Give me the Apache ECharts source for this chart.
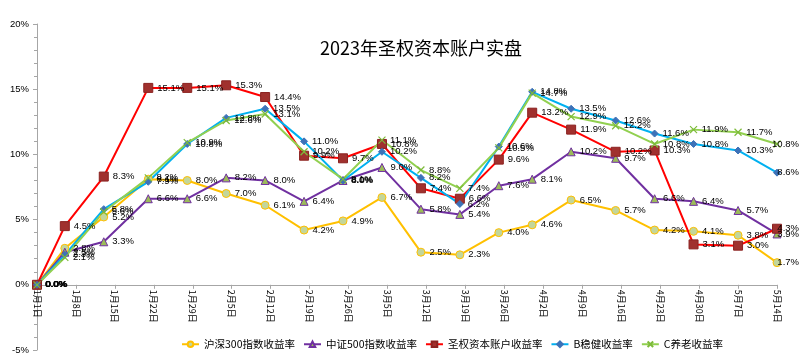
<!DOCTYPE html>
<html>
<head>
<meta charset="utf-8">
<script src="https://cdn.jsdelivr.net/npm/echarts@6/dist/echarts.min.js"></script>
<style>
html,body{margin:0;padding:0;background:#fff;}
#chart{width:800px;height:357px;}
</style>
</head>
<body>
<div id="chart"></div>
<script>
// ---- data ----
const title = '2023年圣权资本账户实盘';
const dates = ['2023-01-01','2023-01-06','2023-01-13','2023-01-21','2023-01-28','2023-02-04','2023-02-11','2023-02-18','2023-02-25','2023-03-04','2023-03-11','2023-03-18','2023-03-25','2023-03-31','2023-04-07','2023-04-15','2023-04-22','2023-04-29','2023-05-07','2023-05-14'];
const tickLabels = ['1月1日','1月8日','1月15日','1月22日','1月29日','2月5日','2月12日','2月19日','2月26日','3月5日','3月12日','3月19日','3月26日','4月2日','4月9日','4月16日','4月23日','4月30日','5月7日','5月14日'];
const seriesNames = ['沪深300指数收益率','中证500指数收益率','圣权资本账户收益率','B稳健收益率','C养老收益率'];
const hs300      = [0,2.8,5.2,8.1,8.0,7.0,6.1,4.2,4.9,6.7,2.5,2.3,4.0,4.6,6.5,5.7,4.2,4.1,3.8,1.7];
const zz500      = [0,2.5,3.3,6.6,6.6,8.2,8.0,6.4,8.0,9.0,5.8,5.4,7.6,8.1,10.2,9.7,6.6,6.4,5.7,3.9];
const shengquan  = [0,4.5,8.3,15.1,15.1,15.3,14.4,9.9,9.7,10.8,7.4,6.6,9.6,13.2,11.9,10.2,10.3,3.1,3.0,4.3];
const bWenjian   = [0,2.3,5.8,7.9,10.8,12.8,13.5,11.0,8.0,10.2,8.2,6.2,10.6,14.8,13.5,12.6,11.6,10.8,10.3,8.6];
const cYanglao   = [0,2.1,5.6,8.2,10.9,12.6,13.1,10.2,8.1,11.1,8.8,7.4,10.5,14.7,12.9,12.2,10.8,11.9,11.7,10.8];
const yMin = -5, yMax = 20, yStep = 5;

// ---- styles ----
const styles = [
  {line:'#FFC000', fill:'#C3D69B', border:'#FFC000', symbol:'circle', size:8},
  {line:'#7030A0', fill:'#9BBB59', border:'#7030A0', symbol:'triangle', size:8},
  {line:'#FF0000', fill:'#A0312E', border:'#8B2220', symbol:'rect', size:9},
  {line:'#00B0F0', fill:'#3D72B8', border:'#3D72B8', symbol:'diamond', size:7},
  {line:'#92D050', fill:'#92D050', border:'#7DBB3A', symbol:'path://M0,0L10,10M10,0L0,10', size:7}
];
const allValues = [hs300, zz500, shengquan, bWenjian, cYanglao];

const base = Date.UTC(2023,0,1);
function dayOf(s){const p=s.split('-').map(Number);return (Date.UTC(p[0],p[1]-1,p[2])-base)/86400000;}
const days = dates.map(dayOf);
const lastIdx = dates.length-1;
const labelFont = {fontFamily:'Liberation Sans, Arial, sans-serif', fontSize:9.5, color:'#000'};

const series = allValues.map((vals, si) => {
  const st = styles[si];
  return {
    name: seriesNames[si],
    type: 'line',
    symbol: st.symbol,
    symbolSize: st.size,
    showAllSymbol: true,
    clip: false,
    lineStyle: {color: st.line, width: 2},
    itemStyle: {color: st.fill, borderColor: st.border, borderWidth: 1},
    label: Object.assign({show: true, position: 'right', distance: 4,
      formatter: p => p.value[1].toFixed(1) + '%'}, labelFont),
    data: vals.map((v, i) => {
      const d = {value: [days[i], v]};
      if (i === lastIdx) {
        d.label = {position: ['50%','50%'], align: 'right', verticalAlign: 'middle', offset: [22, 0]};
      }
      return d;
    })
  };
});
// C养老 cross symbol drawn as stroke
series[4].itemStyle = {color: 'rgba(0,0,0,0)', borderColor: '#7DBB3A', borderWidth: 1.2};

const H = 357, gridTop = 24, gridBottom = 7;
const plotH = H - gridTop - gridBottom;
const zeroOffset = -plotH * (0 - yMin) / (yMax - yMin);

const chart = echarts.init(document.getElementById('chart'), null, {renderer: 'canvas'});
chart.setOption({
  animation: false,
  backgroundColor: '#fff',
  title: {
    text: title, left: 416, top: 34, textAlign: 'center',
    textStyle: {fontFamily: 'Noto Sans CJK SC', fontSize: 18, fontWeight: 'normal', color: '#000'}
  },
  legend: {
    data: seriesNames, left: 176, top: 334, width: 620,
    itemWidth: 17, itemHeight: 7, itemGap: 8,
    textStyle: {fontFamily: 'Noto Sans CJK SC', fontSize: 10.5, color: '#000'}
  },
  grid: {left: 37, right: 23, top: gridTop, bottom: gridBottom, containLabel: false, outerBoundsMode: 'none'},
  xAxis: {
    type: 'value', min: 0, max: 133, interval: 7,
    position: 'bottom', offset: zeroOffset,
    axisLine: {onZero: false, lineStyle: {color: '#A6A6A6', width: 1}},
    axisTick: {show: true, length: 4, lineStyle: {color: '#A6A6A6'}},
    splitLine: {show: false},
    axisLabel: {
      rotate: -90, margin: 5,
      fontFamily: 'Noto Sans CJK SC', fontSize: 9, color: '#000',
      formatter: v => tickLabels[Math.round(v / 7)] || ''
    }
  },
  yAxis: {
    type: 'value', min: yMin, max: yMax, interval: yStep,
    axisLine: {show: true, onZero: false, lineStyle: {color: '#A6A6A6', width: 1}},
    axisTick: {show: true, length: 4, lineStyle: {color: '#A6A6A6'}},
    minorTick: {show: true, splitNumber: 5, length: 3, lineStyle: {color: '#A6A6A6'}},
    splitLine: {show: false},
    axisLabel: {formatter: '{value}%', margin: 8, fontFamily: 'Liberation Sans, Arial, sans-serif', fontSize: 9.5, color: '#000'}
  },
  series: series
});
</script>
</body>
</html>
